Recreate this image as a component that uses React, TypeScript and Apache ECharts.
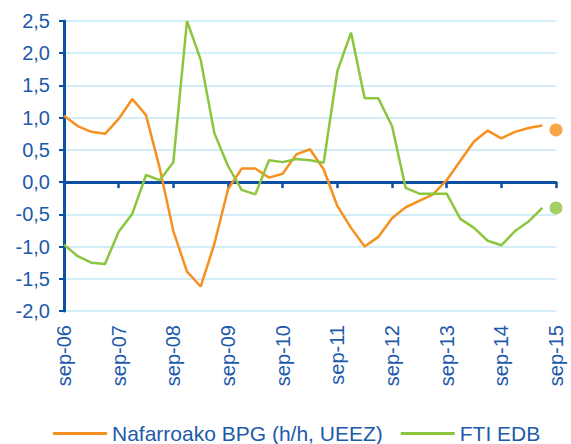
import React, { useEffect, useRef } from "react";
import * as echarts from "echarts";

const categories = [
  "sep-06", "dic-06", "mar-07", "jun-07",
  "sep-07", "dic-07", "mar-08", "jun-08",
  "sep-08", "dic-08", "mar-09", "jun-09",
  "sep-09", "dic-09", "mar-10", "jun-10",
  "sep-10", "dic-10", "mar-11", "jun-11",
  "sep-11", "dic-11", "mar-12", "jun-12",
  "sep-12", "dic-12", "mar-13", "jun-13",
  "sep-13", "dic-13", "mar-14", "jun-14",
  "sep-14", "dic-14", "mar-15", "jun-15",
  "sep-15",
];

const bpgName = "Nafarroako BPG (h/h, UEEZ)";
const ftiName = "FTI EDB";

const bpgValues = [
  1.03, 0.87, 0.78, 0.75, 0.98, 1.29, 1.04, 0.22,
  -0.76, -1.39, -1.62, -0.96, -0.11, 0.21, 0.21, 0.07,
  0.13, 0.43, 0.51, 0.2, -0.37, -0.71, -1.0, -0.85,
  -0.56, -0.39, -0.29, -0.19, 0.03, 0.33, 0.63, 0.8,
  0.68, 0.78, 0.84, 0.88,
];
const ftiValues = [
  -0.97, -1.15, -1.25, -1.27, -0.77, -0.49, 0.11, 0.03,
  0.31, 2.5, 1.9, 0.76, 0.25, -0.12, -0.19, 0.34,
  0.31, 0.36, 0.34, 0.3, 1.72, 2.32, 1.3, 1.3,
  0.87, -0.09, -0.18, -0.18, -0.18, -0.57, -0.71, -0.91,
  -0.98, -0.76, -0.61, -0.4,
];
// forecast points (last category)
const bpgForecast = 0.81;
const ftiForecast = -0.4;

const ORANGE = "#F7901E";
const GREEN = "#8CC63F";
const AXIS = "#0D4FA3";
const TEXT = "#1D5AAA";
const GRID = "#C4E8F6";
const FONT = "Liberation Sans, Arial, sans-serif";

export default function App() {
  const ref = useRef<HTMLDivElement>(null);
  useEffect(() => {
    if (!ref.current) return;
    const chart = echarts.init(ref.current, undefined, { renderer: "svg" });
    const last = categories.length - 1;
    chart.setOption({
      animation: false,
      backgroundColor: "#ffffff",
      textStyle: { fontFamily: FONT },
      grid: { left: 64, right: 15, top: 21, bottom: 133, containLabel: false },
      legend: {
        left: 53,
        top: 423,
        padding: 0,
        icon: "rect",
        itemWidth: 54,
        itemHeight: 3,
        itemGap: 18,
        textStyle: { color: TEXT, fontSize: 21, fontFamily: FONT },
        data: [bpgName, ftiName],
      },
      xAxis: [
        {
          type: "category",
          data: categories,
          boundaryGap: false,
          axisLine: { show: false, onZero: false },
          axisTick: { show: false },
          splitLine: { show: false },
          axisLabel: {
            interval: 3,
            rotate: 90,
            margin: 14,
            color: TEXT,
            fontSize: 20,
            fontFamily: FONT,
          },
        },
        {
          type: "category",
          data: categories,
          boundaryGap: false,
          position: "bottom",
          axisLine: { show: true, onZero: true, lineStyle: { color: AXIS, width: 3 } },
          axisTick: { show: true, interval: 3, length: 6, lineStyle: { color: AXIS, width: 2.5 } },
          axisLabel: { show: false },
          splitLine: { show: false },
        },
      ],
      yAxis: {
        type: "value",
        min: -2,
        max: 2.5,
        interval: 0.5,
        axisLine: { show: true, onZero: false, lineStyle: { color: AXIS, width: 3 } },
        axisTick: { show: true, length: 5, lineStyle: { color: AXIS, width: 2 } },
        splitLine: { show: true, lineStyle: { color: GRID, width: 1.5 } },
        axisLabel: {
          color: TEXT,
          fontSize: 20,
          fontFamily: FONT,
          margin: 14,
          formatter: (v: number) => v.toFixed(1).replace(".", ","),
        },
      },
      series: [
        {
          name: bpgName,
          type: "line",
          data: bpgValues,
          symbol: "none",
          lineStyle: { color: ORANGE, width: 2.5 },
          itemStyle: { color: ORANGE },
          clip: false,
          z: 3,
        },
        {
          name: ftiName,
          type: "line",
          data: ftiValues,
          symbol: "none",
          lineStyle: { color: GREEN, width: 2.5 },
          itemStyle: { color: GREEN },
          clip: false,
          z: 3,
        },
        {
          name: "bpgForecast",
          type: "scatter",
          data: [[last, bpgForecast]],
          symbolSize: 13,
          itemStyle: { color: ORANGE },
          clip: false,
          z: 4,
        },
        {
          name: "ftiForecast",
          type: "scatter",
          data: [[last, ftiForecast]],
          symbolSize: 13,
          itemStyle: { color: GREEN },
          clip: false,
          z: 4,
        },
      ],
    });
    return () => chart.dispose();
  }, []);
  return (
    <div
      ref={ref}
      style={{ position: "fixed", left: 0, top: 0, width: 571, height: 444 }}
    />
  );
}
